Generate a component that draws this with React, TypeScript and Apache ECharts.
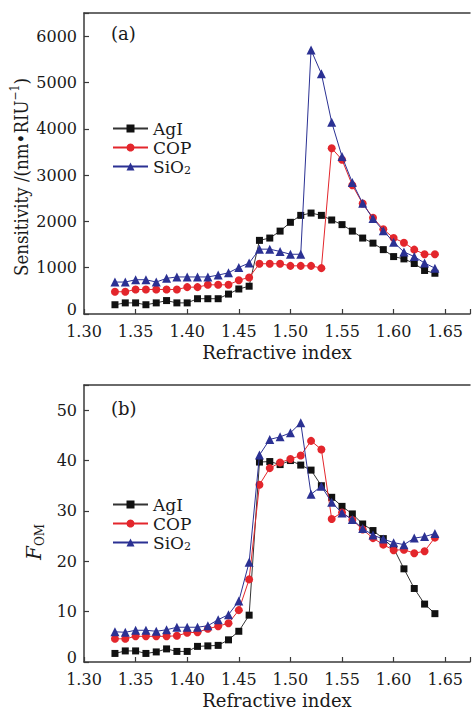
import React, { useEffect, useRef } from "react";
import * as echarts from "echarts";

const refractiveIndex = [
  1.33, 1.34, 1.35, 1.36, 1.37, 1.38, 1.39, 1.4, 1.41, 1.42, 1.43, 1.44, 1.45, 1.46, 1.47, 1.48,
  1.49, 1.5, 1.51, 1.52, 1.53, 1.54, 1.55, 1.56, 1.57, 1.58, 1.59, 1.6, 1.61, 1.62, 1.63, 1.64,
];

const sensAgI = [
  200, 240, 240, 200, 240, 290, 240, 240, 330, 330, 330, 430, 540, 600, 1590, 1640, 1790, 1980,
  2130, 2180, 2130, 2030, 1930, 1790, 1640, 1530, 1390, 1240, 1190, 1090, 940, 880,
];
const sensCOP = [
  480, 480, 530, 530, 530, 530, 530, 580, 580, 630, 630, 630, 730, 790, 1085, 1085, 1085, 1040,
  1040, 1040, 990, 3580, 3330, 2780, 2385, 2080, 1830, 1640, 1540, 1390, 1290, 1290,
];
const sensSiO2 = [
  690, 690, 740, 740, 690, 770, 800, 800, 800, 800, 840, 890, 1005, 1100, 1400, 1400, 1350, 1290,
  1290, 5700, 5190, 4140, 3400, 2840, 2390, 2060, 1800, 1550, 1340, 1240, 1100, 990,
];

const fomAgI = [
  1.7, 2.2, 2.2, 1.7, 2.0, 2.6, 2.1, 2.1, 3.1, 3.2, 3.3, 4.4, 6.1, 9.3, 39.7, 39.8, 39.2, 40.0,
  39.1, 38.1, 35.0, 32.7, 30.9, 29.4, 27.4, 26.1, 24.5, 22.6, 18.5, 14.6, 11.5, 9.6,
];
const fomCOP = [
  4.6, 4.6, 5.1, 5.1, 5.1, 5.1, 5.2, 5.8, 5.9, 6.6, 7.1, 7.7, 10.3, 16.4, 35.2, 38.5, 39.6, 40.3,
  41.0, 43.9, 42.2, 28.4, 29.7, 28.2, 26.3, 24.6, 23.3, 22.2, 22.3, 21.6, 22.0, 24.7,
];
const fomSiO2 = [
  6.0, 5.9, 6.3, 6.3, 6.1, 6.4, 6.9, 6.9, 6.9, 7.2, 8.4, 9.4, 12.1, 19.8, 41.1, 44.2, 44.7, 45.5,
  47.5, 33.3, 34.9, 31.7, 29.6, 28.3, 26.5, 25.2, 24.4, 23.7, 23.3, 24.6, 24.9, 25.5,
];

const seriesNames = ["AgI", "COP", "SiO2"];
const panelLabels = ["(a)", "(b)"];
const xAxisTitle = "Refractive index";
const sensTitle = "Sensitivity /(nm•RIU{sup|−1})";
const fomTitle = "{f|F}{sub|OM}";

const FONT = "DejaVu Serif";
const FONT_COND = "'DejaVu Serif Condensed', 'DejaVu Serif'";
const TEXT = "#1a1a1a";
const AXIS = "#3a3a3a";
const COLORS = ["#111111", "#e3262c", "#2b3193"];
const LINE_COLORS = ["#333333", "#e3262c", "#2b3193"];
const SYMBOLS = ["rect", "circle", "triangle"];
const SIZES = [7, 8, 9];

export default function App() {
  const ref = useRef<HTMLDivElement>(null);

  useEffect(() => {
    const chart = echarts.init(ref.current!, null, { renderer: "svg" });

    const xBottom = (gridIndex: number) => ({
      type: "value",
      gridIndex,
      min: 1.3,
      max: 1.674,
      interval: 0.05,
      axisLine: { show: true, onZero: false, lineStyle: { color: AXIS, width: 1.5 } },
      axisTick: { show: true, inside: true, length: 5, lineStyle: { color: AXIS, width: 1.2 } },
      axisLabel: {
        margin: 9,
        fontFamily: FONT,
        fontSize: 16,
        color: TEXT,
        formatter: (v: number) =>
          Math.abs(v * 20 - Math.round(v * 20)) < 1e-6 ? v.toFixed(2) : "",
      },
      splitLine: { show: false },
      name: xAxisTitle,
      nameLocation: "middle",
      nameGap: 29,
      nameTextStyle: { fontFamily: FONT, fontSize: 18, color: TEXT },
    });
    const xTop = (gridIndex: number) => ({
      type: "value",
      gridIndex,
      position: "top",
      min: 1.3,
      max: 1.674,
      axisLine: { show: true, onZero: false, lineStyle: { color: AXIS, width: 1.5 } },
      axisTick: { show: false },
      axisLabel: { show: false },
      splitLine: { show: false },
    });

    const yAxis = (gridIndex: number, max: number, interval: number) => ({
      type: "value",
      gridIndex,
      min: 0,
      max,
      interval,
      axisLine: { show: true, onZero: false, lineStyle: { color: AXIS, width: 1.5 } },
      axisTick: { show: true, inside: true, length: 5, lineStyle: { color: AXIS, width: 1.2 } },
      axisLabel: {
        margin: 7,
        fontFamily: FONT,
        fontSize: 16,
        color: TEXT,
        formatter: (v: number) =>
          v === 0 ? "{z|0}" : Math.abs(v % interval) < 1e-6 ? String(v) : "",
        rich: { z: { fontFamily: FONT, fontSize: 16, color: TEXT, padding: [0, 0, 9, 0] } },
      },
      splitLine: { show: false },
    });

    const makeSeries = (gi: number, arrays: number[][]) =>
      arrays.map((arr, k) => ({
        name: seriesNames[k],
        type: "line",
        xAxisIndex: gi * 2,
        yAxisIndex: gi,
        symbol: SYMBOLS[k],
        symbolSize: SIZES[k],
        showAllSymbol: true,
        lineStyle: { width: 1, color: LINE_COLORS[k] },
        itemStyle: { color: COLORS[k] },
        emphasis: { disabled: true },
        data: refractiveIndex.map((x, i) => [x, arr[i]]),
        z: 2 + k,
      }));

    const legend = (top: number) => ({
      data: seriesNames,
      orient: "vertical",
      left: 107,
      top,
      itemWidth: 35,
      itemHeight: 10,
      itemGap: 0,
      selectedMode: false,
      formatter: (n: string) => (n === "SiO2" ? "SiO{sub|2}" : n),
      textStyle: {
        fontFamily: FONT,
        fontSize: 17,
        color: TEXT,
        lineHeight: 19,
        rich: {
          sub: { fontFamily: FONT, fontSize: 11, lineHeight: 11, verticalAlign: "bottom", color: TEXT },
        },
      },
    });

    const option: any = {
      animation: false,
      backgroundColor: "#ffffff",
      title: [
        { text: panelLabels[0], left: 106, top: 19, textStyle: { fontFamily: FONT, fontSize: 18, fontWeight: "normal", color: TEXT } },
        { text: panelLabels[1], left: 106, top: 394, textStyle: { fontFamily: FONT, fontSize: 18, fontWeight: "normal", color: TEXT } },
      ],
      grid: [
        { left: 84, top: 13, width: 389, height: 301 },
        { left: 84, top: 385, width: 389, height: 278 },
      ],
      xAxis: [xBottom(0), xTop(0), xBottom(1), xTop(1)],
      yAxis: [yAxis(0, 6500, 1000), yAxis(1, 55, 10)],
      legend: [legend(114), legend(490)],
      graphic: [
        {
          type: "text",
          x: 21,
          y: 177,
          rotation: Math.PI / 2,
          style: {
            text: sensTitle,
            fontFamily: FONT_COND,
            fontSize: 18.5,
            fill: TEXT,
            align: "center",
            verticalAlign: "middle",
            rich: {
              sup: { fontFamily: FONT_COND, fontSize: 12, lineHeight: 24, verticalAlign: "top", fill: TEXT },
            },
          },
        },
        {
          type: "text",
          x: 34,
          y: 542,
          rotation: Math.PI / 2,
          style: {
            text: fomTitle,
            fontFamily: FONT,
            fill: TEXT,
            align: "center",
            verticalAlign: "middle",
            rich: {
              f: { fontFamily: FONT, fontSize: 20, fontStyle: "italic", fill: TEXT, lineHeight: 24 },
              sub: { fontFamily: FONT, fontSize: 12, lineHeight: 12, verticalAlign: "bottom", fill: TEXT },
            },
          },
        },
      ],
      series: [
        ...makeSeries(0, [sensAgI, sensCOP, sensSiO2]),
        ...makeSeries(1, [fomAgI, fomCOP, fomSiO2]),
      ],
    };

    chart.setOption(option);
    return () => chart.dispose();
  }, []);

  return (
    <div
      ref={ref}
      style={{ position: "absolute", left: 0, top: 0, width: 473, height: 710, background: "#fff" }}
    />
  );
}
